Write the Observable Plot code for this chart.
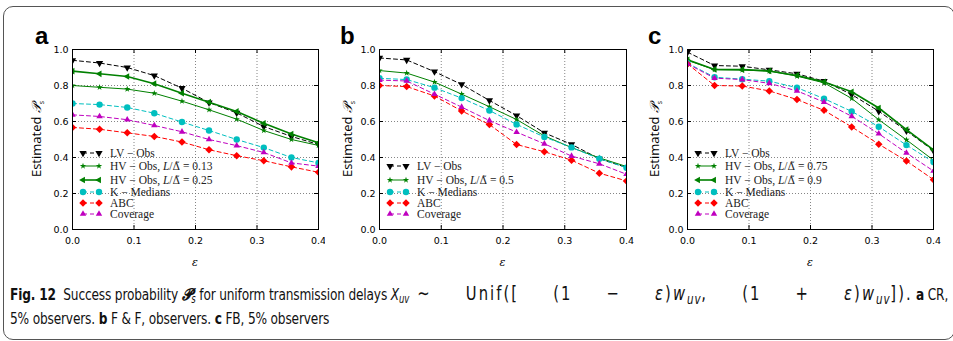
<!DOCTYPE html>
<html><head><meta charset="utf-8">
<script src="https://cdn.jsdelivr.net/npm/d3@7"></script>
<script src="https://cdn.jsdelivr.net/npm/@observablehq/plot@0.6"></script>
<style>
html,body{margin:0;padding:0;background:#fff;}
#fig{position:relative;width:953px;height:341px;overflow:hidden;background:#fff;}
#border{position:absolute;left:3px;top:6px;width:952px;height:334px;border:1.3px solid #555;border-radius:10px;box-sizing:border-box;}
.panel{position:absolute;top:0;}
.plabel{position:absolute;top:21px;font:bold 24px "Liberation Sans",Arial,sans-serif;line-height:30px;}
.cap{position:absolute;left:10px;font-family:"DejaVu Sans Condensed","DejaVu Sans",sans-serif;font-size:16.5px;line-height:25px;white-space:nowrap;color:#111;letter-spacing:-0.2px;transform:scaleX(0.82);transform-origin:0 0;}
#cap1{top:281px;width:1144px;display:flex;align-items:baseline;}
#cap2{top:306px;}
.cap sub{font-size:0.7em;vertical-align:-0.25em;line-height:0;}
.m{flex:1;margin:0 4px 0 10px;white-space:normal;text-align:justify;text-align-last:justify;letter-spacing:2.5px;font-size:20px;line-height:25px;}
.m sub{letter-spacing:1px;}
</style></head><body>
<div id="fig">
  <div id="border"></div>
  <div id="pa" class="panel" style="left:0px"></div>
  <div id="pb" class="panel" style="left:310px"></div>
  <div id="pc" class="panel" style="left:620px"></div>
  <div class="plabel" style="left:35px">a</div>
  <div class="plabel" style="left:340px">b</div>
  <div class="plabel" style="left:648px">c</div>
  <div id="cap1" class="cap"><span><b>Fig. 12</b>&nbsp; Success probability <i><b>𝓟</b><sub>s</sub></i> for uniform transmission delays <i>X<sub>uv</sub></i></span><span class="m">∼ Unif([ (1 − <i>ε</i>)<i>w<sub>uv</sub></i>, (1 + <i>ε</i>)<i>w<sub>uv</sub></i>]).</span><span><b>a</b> CR,</span></div>
  <div id="cap2" class="cap">5% observers. <b>b</b> F &amp; F, observers. <b>c</b> FB, 5% observers</div>
</div>
<script>
// ---------- data ----------
const eps = [0, 0.044, 0.089, 0.133, 0.178, 0.222, 0.267, 0.311, 0.356, 0.4];
const xTicks = [0, 0.1, 0.2, 0.3, 0.4];
const yTicks = [0, 0.2, 0.4, 0.6, 0.8, 1.0];

// panel a (CR)
const aLV   = [0.940, 0.925, 0.900, 0.855, 0.785, 0.705, 0.648, 0.572, 0.517, 0.472];
const aHV13 = [0.800, 0.790, 0.780, 0.757, 0.713, 0.665, 0.613, 0.550, 0.500, 0.467];
const aHV25 = [0.880, 0.865, 0.850, 0.810, 0.757, 0.707, 0.656, 0.590, 0.530, 0.482];
const aKM   = [0.700, 0.694, 0.678, 0.646, 0.597, 0.550, 0.500, 0.455, 0.400, 0.370];
const aABC  = [0.567, 0.557, 0.537, 0.517, 0.486, 0.443, 0.410, 0.382, 0.348, 0.318];
const aCov  = [0.637, 0.628, 0.610, 0.578, 0.543, 0.500, 0.466, 0.428, 0.370, 0.352];
// panel b (F & F)
const bLV   = [0.953, 0.942, 0.877, 0.806, 0.717, 0.633, 0.537, 0.473, 0.393, 0.345];
const bHV50 = [0.883, 0.869, 0.819, 0.752, 0.682, 0.611, 0.520, 0.455, 0.398, 0.350];
const bKM   = [0.840, 0.833, 0.788, 0.730, 0.661, 0.584, 0.514, 0.456, 0.393, 0.343];
const bABC  = [0.800, 0.794, 0.742, 0.659, 0.583, 0.472, 0.432, 0.385, 0.313, 0.270];
const bCov  = [0.830, 0.825, 0.752, 0.680, 0.605, 0.541, 0.476, 0.408, 0.365, 0.307];
// panel c (FB)
const cLV   = [0.985, 0.911, 0.907, 0.887, 0.865, 0.824, 0.750, 0.657, 0.548, 0.438];
const cHV75 = [0.940, 0.888, 0.886, 0.880, 0.852, 0.815, 0.728, 0.610, 0.498, 0.385];
const cHV90 = [0.943, 0.889, 0.888, 0.881, 0.856, 0.820, 0.765, 0.675, 0.555, 0.443];
const cKM   = [0.924, 0.846, 0.835, 0.824, 0.788, 0.727, 0.656, 0.571, 0.469, 0.375];
const cABC  = [0.920, 0.800, 0.797, 0.770, 0.722, 0.662, 0.570, 0.474, 0.381, 0.277];
const cCov  = [0.920, 0.841, 0.833, 0.812, 0.770, 0.708, 0.629, 0.532, 0.425, 0.325];

// ---------- symbols ----------
const s3 = Math.sqrt(3);
const triDown = {draw(c, s){ const y = -Math.sqrt(s/(s3*3)); c.moveTo(0,-2*y); c.lineTo(-s3*y, y); c.lineTo(s3*y, y); c.closePath(); }};
const triLeft = {draw(c, s){ const y = -Math.sqrt(s/(s3*3)); c.moveTo(2*y,0); c.lineTo(-y, s3*y); c.lineTo(-y, -s3*y); c.closePath(); }};

const styles = {
  LV:   {color:"#000000", dash:"4,3", w:1,   symbol:triDown,  r:2.7},
  HVt:  {color:"#008000", dash:null,  w:1,   symbol:"star",   r:2.0},
  HVT:  {color:"#008000", dash:null,  w:1.6, symbol:triLeft,  r:2.5},
  KM:   {color:"#00bfbf", dash:"4,3", w:1,   symbol:"circle", r:3.2},
  ABC:  {color:"#ff0000", dash:"4,3", w:1,   symbol:"diamond2", r:3.4},
  Cov:  {color:"#bf00bf", dash:"4,3", w:1,   symbol:"triangle", r:2.4}
};
const it = t => ({t, i:true});
const dl = t => ({t, d:true});
const lvLab = ["LV − Obs"];
const hvLab = v => ["HV − Obs, ", it("L"), "/", dl("Δ̃"), " = " + v];
const kmLab = ["K − Medians"];
const abcLab = ["ABC"];
const covLab = ["Coverage"];

function panel(sel, svgLeft, plotL, plotR, series, legendYs, ylabX) {
  const W = 325, H = 275, mT = 49, mB = 46;
  const mL = plotL - svgLeft, mR = svgLeft + W - plotR;
  const ih = H - mT - mB, iw = W - mL - mR;
  const gridStyle = {stroke:"#666", strokeOpacity:1, strokeDasharray:"1,2", strokeWidth:0.8};
  const marks = [
    Plot.gridX(xTicks.slice(1,-1), gridStyle),
    Plot.gridY(yTicks.slice(1,-1), gridStyle),
    Plot.tickX(xTicks.slice(1,-1), {x:d=>d, insetTop: ih-4, stroke:"#000"}),
    Plot.tickX(xTicks.slice(1,-1), {x:d=>d, insetBottom: ih-4, stroke:"#000"}),
    Plot.tickY(yTicks.slice(1,-1), {y:d=>d, insetRight: iw-4, stroke:"#000"}),
    Plot.tickY(yTicks.slice(1,-1), {y:d=>d, insetLeft: iw-4, stroke:"#000"}),
    Plot.axisX(xTicks, {tickSize:0, tickPadding:8, tickFormat:d3.format(".1f"), label:null}),
    Plot.axisY(yTicks, {tickSize:0, tickPadding:4, tickFormat:d3.format(".1f"), label:null})
  ];
  for (const s of series) {
    const st = styles[s.style];
    const pts = s.values.map((v,i)=>({x:eps[i], y:v}));
    marks.push(Plot.line(pts, {x:"x", y:"y", stroke:st.color, strokeWidth:st.w, strokeDasharray:st.dash, clip:true}));
    marks.push(Plot.dot(pts, {x:"x", y:"y", symbol:st.symbol, r:st.r, fill:st.color, stroke:null, clip:true}));
  }
  marks.push(Plot.frame({stroke:"#000", strokeWidth:1}));
  const svg = Plot.plot({
    width:W, height:H, marginLeft:mL, marginRight:mR, marginTop:mT, marginBottom:mB,
    x:{domain:[0,0.4]}, y:{domain:[0,1]},
    style:{fontFamily:"'DejaVu Sans', sans-serif", fontSize:"9.5px", color:"#000", background:"none"},
    marks
  });
  document.querySelector(sel).appendChild(svg);
  const g = d3.select(svg);
  // legend
  const lg = g.append("g");
  series.forEach((s,k) => {
    const st = styles[s.style];
    const y = legendYs[k];
    const x0 = mL + 11, x1 = mL + 27;
    lg.append("line").attr("x1",x0).attr("x2",x1).attr("y1",y).attr("y2",y)
      .attr("stroke",st.color).attr("stroke-width",st.w).attr("stroke-dasharray",st.dash);
    const sym = typeof st.symbol === "string" ? {star:d3.symbolStar,circle:d3.symbolCircle,diamond2:d3.symbolDiamond2,triangle:d3.symbolTriangle}[st.symbol] : st.symbol;
    const path = d3.symbol(sym, st.r*st.r*Math.PI)();
    [x0,x1].forEach(x => lg.append("path").attr("d",path).attr("transform",`translate(${x},${y})`).attr("fill",st.color));
    const t = lg.append("text").attr("x", mL+38).attr("y", y).attr("dy","0.35em")
      .attr("text-anchor","start")
      .attr("font-family","'Liberation Serif', serif").attr("font-size","11.5px").attr("fill","#222");
    s.label.forEach(p => {
      if (typeof p === "string") t.append("tspan").text(p);
      else if (p.i) t.append("tspan").attr("font-style","italic").text(p.t);
      else t.append("tspan").attr("font-family","'DejaVu Serif', serif").attr("font-size","10.5px").text(p.t);
    });
  });
  // y label
  const yl = g.append("text").attr("transform",`translate(${ylabX},${mT+ih/2}) rotate(-90)`)
    .attr("text-anchor","middle").attr("dy","0.35em")
    .attr("font-family","'Open Sans', sans-serif").attr("font-size","13px").attr("fill","#000");
  yl.append("tspan").text("Estimated ");
  yl.append("tspan").attr("font-family","'DejaVu Serif', serif").attr("font-style","italic").text("𝒫");
  yl.append("tspan").attr("font-size","7px").attr("dy","3").text("s");
  // x label
  g.append("text").attr("x", mL+iw/2).attr("y", 266).attr("text-anchor","middle")
    .attr("font-family","'DejaVu Serif', serif").attr("font-style","italic").attr("font-size","11px").text("ε");
}

panel("#pa", 0, 72, 318, [
  {style:"LV",  values:aLV,   label:lvLab},
  {style:"HVt", values:aHV13, label:hvLab("0.13")},
  {style:"HVT", values:aHV25, label:hvLab("0.25")},
  {style:"KM",  values:aKM,   label:kmLab},
  {style:"ABC", values:aABC,  label:abcLab},
  {style:"Cov", values:aCov,  label:covLab}
], [153,166,180,192,203,214], 36);

panel("#pb", 310, 379, 626, [
  {style:"LV",  values:bLV,   label:lvLab},
  {style:"HVt", values:bHV50, label:hvLab("0.5")},
  {style:"KM",  values:bKM,   label:kmLab},
  {style:"ABC", values:bABC,  label:abcLab},
  {style:"Cov", values:bCov,  label:covLab}
], [166,180,192,203,214], 37);

panel("#pc", 620, 687, 933, [
  {style:"LV",  values:cLV,   label:lvLab},
  {style:"HVt", values:cHV75, label:hvLab("0.75")},
  {style:"HVT", values:cHV90, label:hvLab("0.9")},
  {style:"KM",  values:cKM,   label:kmLab},
  {style:"ABC", values:cABC,  label:abcLab},
  {style:"Cov", values:cCov,  label:covLab}
], [153,166,180,192,203,214], 34);
</script>
</body></html>
